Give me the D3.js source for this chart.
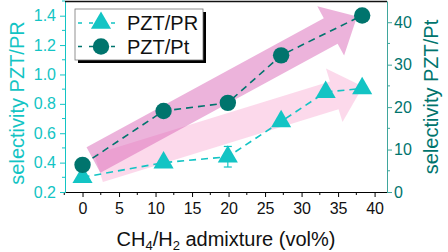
<!DOCTYPE html>
<html>
<head>
<meta charset="utf-8">
<script src="https://cdn.jsdelivr.net/npm/d3@7"></script>
<style>
  html, body { margin: 0; padding: 0; background: #fff; }
  svg { display: block; font-family: "Liberation Sans", Arial, sans-serif; }
</style>
</head>
<body>
<div id="chart"></div>
<script>
// data
var xPR = [0, 11.1, 19.9, 27.2, 33.3, 38.3];
var selPR = [0.30, 0.40, 0.44, 0.68, 0.88, 0.905];
var errPR = [0, 0, 0.07, 0, 0, 0];
var xPt = [0, 11.1, 19.9, 27.2, 38.3];
var selPt = [6.4, 19.1, 21.0, 32.2, 41.6];
var xTicks = [0, 5, 10, 15, 20, 25, 30, 35, 40];
var leftTicks = [0.2, 0.4, 0.6, 0.8, 1.0, 1.2, 1.4];
var rightTicks = [0, 10, 20, 30, 40];
// trend arrows, [x0, y0, x1, y1] in (vol%, left axis) units
var arrowDark = [1.5, 0.418, 37.6, 1.394];
var arrowLight = [2.2, 0.362, 38.4, 0.918];

var cyan = "#13C4C4", teal = "#00746D", tealAxis = "#3FA69C";

var W = 448, H = 252;
var margin = {top: 1, right: 61, bottom: 60, left: 65},
	width = W - margin.left - margin.right,
	height = H - margin.top - margin.bottom;

var svg = d3.select("#chart").append("svg")
	.attr("width", W)
	.attr("height", H);

var g = svg.append("g")
	.attr("transform", "translate(" + margin.left + "," + margin.top + ")");

var x = d3.scaleLinear().domain([-2.4, 41.7]).range([0, width]);
var yL = d3.scaleLinear().domain([0.2, 1.5]).range([height, 0]);
var yR = d3.scaleLinear().domain([0, 45]).range([height, 0]);

// arrows
function drawArrow(a, fill, op) {
	var x0 = x(a[0]), y0 = yL(a[1]), x1 = x(a[2]), y1 = yL(a[3]);
	var len = Math.hypot(x1 - x0, y1 - y0);
	var ang = Math.atan2(y1 - y0, x1 - x0) * 180 / Math.PI;
	var sw = 14.5, hw = 28, hl = 30;
	var pts = [[0, -sw], [len - hl, -sw], [len - hl, -hw], [len, 0], [len - hl, hw], [len - hl, sw], [0, sw]];
	g.append("polygon")
		.attr("points", pts.map(p => p.join(",")).join(" "))
		.attr("transform", "translate(" + x0 + "," + y0 + ") rotate(" + ang + ")")
		.attr("fill", fill)
		.attr("fill-opacity", op);
}
drawArrow(arrowLight, "#FAB4D8", 0.5);
drawArrow(arrowDark, "#D968B8", 0.5);

// axes
var xAx = g.append("g")
	.attr("transform", "translate(0," + height + ")")
	.call(d3.axisBottom(x).tickValues(xTicks).tickSize(5).tickPadding(6).tickSizeOuter(0));
xAx.append("g").selectAll("line")
	.data(d3.range(-2.5, 41, 2.5).filter(v => v % 5 !== 0))
	.enter().append("line")
	.attr("x1", d => x(d)).attr("x2", d => x(d))
	.attr("y1", 0).attr("y2", 3)
	.attr("stroke", "#000");
xAx.selectAll("text").attr("font-size", "16px").attr("fill", "#111").attr("font-family", "Liberation Sans, Arial");
xAx.select(".domain").attr("stroke", "#000");

var lAx = g.append("g")
	.call(d3.axisLeft(yL).tickValues(leftTicks).tickFormat(d3.format(".1f")).tickSize(5).tickPadding(4).tickSizeOuter(0));
lAx.append("g").selectAll("line")
	.data([0.3, 0.5, 0.7, 0.9, 1.1, 1.3, 1.5])
	.enter().append("line")
	.attr("y1", d => yL(d)).attr("y2", d => yL(d))
	.attr("x1", 0).attr("x2", -3)
	.attr("stroke", cyan);
lAx.selectAll("line").attr("stroke", cyan);
lAx.select(".domain").attr("stroke", cyan);
lAx.selectAll("text").attr("font-size", "16px").attr("fill", cyan).attr("font-family", "Liberation Sans, Arial");

var rAx = g.append("g")
	.attr("transform", "translate(" + width + ",0)")
	.call(d3.axisRight(yR).tickValues(rightTicks).tickSize(5).tickPadding(2).tickSizeOuter(0));
rAx.append("g").selectAll("line")
	.data([5, 15, 25, 35])
	.enter().append("line")
	.attr("y1", d => yR(d)).attr("y2", d => yR(d))
	.attr("x1", 0).attr("x2", 3)
	.attr("stroke", tealAxis);
rAx.selectAll("line").attr("stroke", tealAxis);
rAx.select(".domain").attr("stroke", tealAxis);
rAx.selectAll("text").attr("font-size", "16px").attr("fill", teal).attr("font-family", "Liberation Sans, Arial");

// top frame
g.append("line")
	.attr("x1", 0).attr("x2", width)
	.attr("y1", 0.5).attr("y2", 0.5)
	.attr("stroke", "#111").attr("stroke-width", 1.5);

// axis titles
svg.append("text")
	.attr("transform", "translate(17," + (margin.top + 102) + ") rotate(-90)")
	.attr("text-anchor", "middle")
	.attr("dy", "0.35em")
	.attr("font-size", "20px")
	.attr("fill", cyan)
	.text("selectivity PZT/PR");

svg.append("text")
	.attr("transform", "translate(431," + (margin.top + 96) + ") rotate(-90)")
	.attr("text-anchor", "middle")
	.attr("dy", "0.35em")
	.attr("font-size", "20px")
	.attr("fill", teal)
	.text("selectivity PZT/Pt");

var xt = svg.append("text")
	.attr("x", margin.left + width / 2)
	.attr("y", 246)
	.attr("text-anchor", "middle")
	.attr("font-size", "20px")
	.attr("fill", "#111");
xt.append("tspan").text("CH");
xt.append("tspan").attr("font-size", "13px").attr("dy", 4).text("4");
xt.append("tspan").attr("dy", -4).text("/H");
xt.append("tspan").attr("font-size", "13px").attr("dy", 4).text("2");
xt.append("tspan").attr("dy", -4).text(" admixture (vol%)");

// lines
var prData = xPR.map((v, i) => ({x: v, y: selPR[i], e: errPR[i]}));
var ptData = xPt.map((v, i) => ({x: v, y: selPt[i]}));

g.append("path")
	.datum(prData)
	.attr("d", d3.line().x(d => x(d.x)).y(d => yL(d.y)))
	.attr("fill", "none")
	.attr("stroke", cyan)
	.attr("stroke-width", 1.6)
	.attr("stroke-dasharray", "7,5");

g.append("path")
	.datum(ptData)
	.attr("d", d3.line().x(d => x(d.x)).y(d => yR(d.y)))
	.attr("fill", "none")
	.attr("stroke", teal)
	.attr("stroke-width", 1.6)
	.attr("stroke-dasharray", "7,5");

// error bars
var eb = g.selectAll(".eb").data(prData.filter(d => d.e > 0)).enter().append("g").attr("class", "eb");
eb.append("line")
	.attr("x1", d => x(d.x)).attr("x2", d => x(d.x))
	.attr("y1", d => yL(d.y - d.e)).attr("y2", d => yL(d.y + d.e))
	.attr("stroke", cyan).attr("stroke-width", 1.2);
eb.append("line")
	.attr("x1", d => x(d.x) - 4).attr("x2", d => x(d.x) + 4)
	.attr("y1", d => yL(d.y - d.e)).attr("y2", d => yL(d.y - d.e))
	.attr("stroke", cyan).attr("stroke-width", 1.2);
eb.append("line")
	.attr("x1", d => x(d.x) - 4).attr("x2", d => x(d.x) + 4)
	.attr("y1", d => yL(d.y + d.e)).attr("y2", d => yL(d.y + d.e))
	.attr("stroke", cyan).attr("stroke-width", 1.2);

// markers
var tri = d3.symbol().type(d3.symbolTriangle).size(175);
g.selectAll(".tri")
	.data(prData)
	.enter().append("path")
	.attr("class", "tri")
	.attr("d", tri)
	.attr("transform", d => "translate(" + x(d.x) + "," + yL(d.y) + ")")
	.attr("fill", cyan);

g.selectAll(".dot")
	.data(ptData)
	.enter().append("circle")
	.attr("class", "dot")
	.attr("cx", d => x(d.x))
	.attr("cy", d => yR(d.y))
	.attr("r", 8.2)
	.attr("fill", teal);

// legend
var leg = svg.append("g").attr("transform", "translate(75,9)");
leg.append("rect")
	.attr("x", 3).attr("y", 3).attr("width", 128).attr("height", 51)
	.attr("fill", "#000");
leg.append("rect")
	.attr("x", 0).attr("y", 0).attr("width", 128).attr("height", 51)
	.attr("fill", "#fff").attr("stroke", "#777").attr("stroke-width", 0.8);

var legItems = [
	{name: "PZT/PR", color: cyan, shape: "tri"},
	{name: "PZT/Pt", color: teal, shape: "dot"}
];
legItems.forEach(function (d, i) {
	var cy = 14 + i * 23.5;
	leg.append("line")
		.attr("x1", 3).attr("x2", 42)
		.attr("y1", cy).attr("y2", cy)
		.attr("stroke", d.color).attr("stroke-width", 1.6)
		.attr("stroke-dasharray", "4,7");
	if (d.shape === "tri") {
		leg.append("path")
			.attr("d", tri)
			.attr("transform", "translate(26," + cy + ")")
			.attr("fill", d.color);
	} else {
		leg.append("circle")
			.attr("cx", 26).attr("cy", cy).attr("r", 8.2)
			.attr("fill", d.color);
	}
	leg.append("text")
		.attr("x", 52).attr("y", cy)
		.attr("dy", "0.35em")
		.attr("font-size", "20px")
		.attr("fill", "#111")
		.text(d.name);
});
</script>
</body>
</html>
